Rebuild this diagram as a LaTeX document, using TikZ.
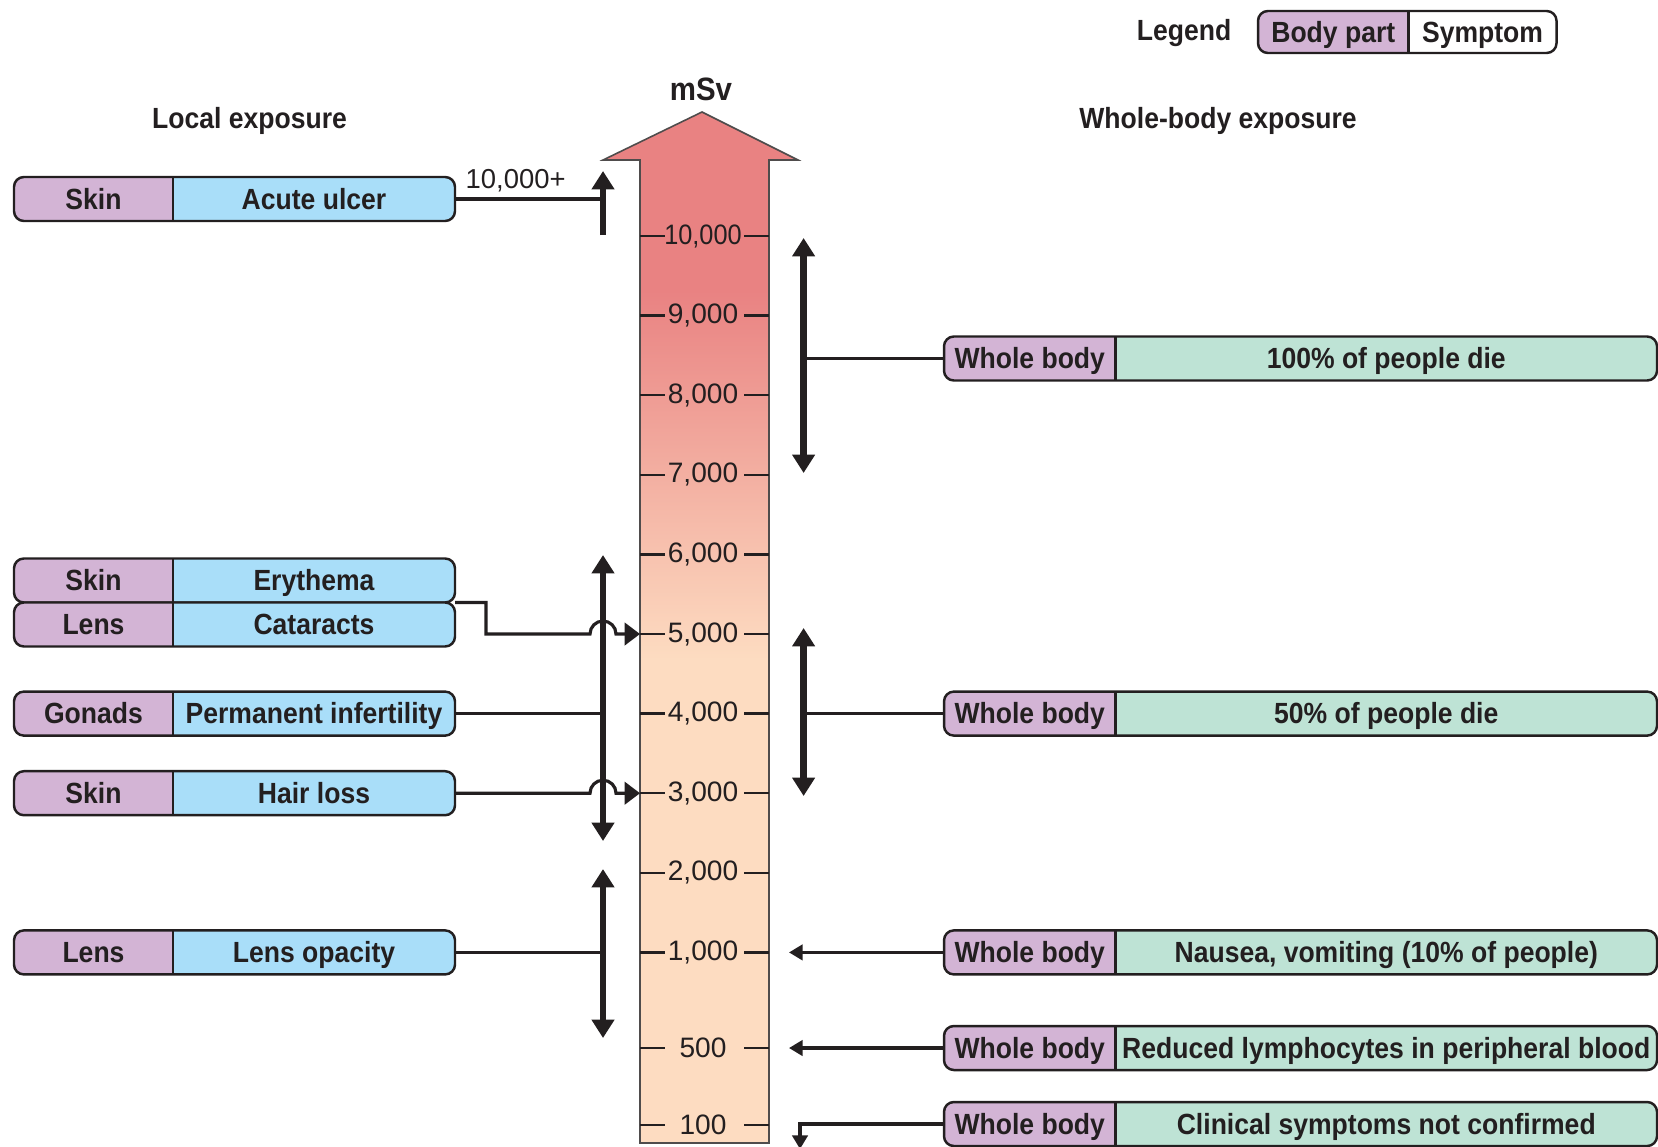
\documentclass[tikz,border=0pt]{standalone}
\usepackage{fontspec}
\setmainfont{Liberation Sans}
\newfontfamily\dosefont{Liberation Sans}[FakeStretch=0.91]
\usetikzlibrary{positioning,arrows.meta,backgrounds,calc}

\definecolor{partfill}{HTML}{D3B4D5}
\definecolor{localfill}{HTML}{A9DEF9}
\definecolor{wholefill}{HTML}{BEE3D5}
\definecolor{doseRed}{HTML}{E98282}
\definecolor{dosePeach}{HTML}{FDDCC1}
\definecolor{ink}{HTML}{231F20}

\tikzset{bigtri/.tip={Triangle[length=5.2pt,width=6.2pt]}}
\tikzset{hoptri/.tip={Triangle[length=4.4pt,width=6.4pt]}}
\tikzset{thintri/.tip={Triangle[length=3.9pt,width=4.4pt]}}
\tikzset{part/.style={minimum height=0.44cm, inner sep=0pt, outer sep=0pt, text height=5.9pt, text depth=0pt, font=\dosefont\fontsize{8.3}{10}\selectfont\bfseries, text=ink},}
\tikzset{local part/.style={part, minimum width=1.59cm},}
\tikzset{local sym/.style={part, minimum width=2.82cm},}
\tikzset{whole part/.style={part, minimum width=1.715cm},}
\tikzset{whole sym/.style={part, minimum width=5.415cm},}
\tikzset{head/.style={font=\dosefont\fontsize{8.3}{10}\selectfont\bfseries, text=ink, inner sep=0pt},}
\tikzset{tick label/.style={font=\fontsize{8}{10}\selectfont, text=ink, inner sep=0pt},}
\tikzset{tick/.style={draw=ink, line width=0.7pt},}
\tikzset{link/.style={draw=ink, line width=0.9pt},}
\tikzset{dose range/.style={draw=ink, line width=1.9pt, bigtri-bigtri},}
\tikzset{boxline/.style={draw=ink, line width=0.7pt},}

% frame of a body part / symptom pair
\newcommand{\dosepair}[3]{%
  \begin{scope}[on background layer]
    \fill[#3, rounded corners=2.8pt] (#1.north west) rectangle (#2.south east);
    \fill[partfill, rounded corners=2.8pt] (#1.north east) -- (#1.north west) -- (#1.south west) -- (#1.south east);
    \draw[boxline, rounded corners=2.8pt] (#1.north west) rectangle (#2.south east);
    \draw[boxline] (#1.north east) -- (#1.south east);
  \end{scope}}

\begin{document}
\begin{tikzpicture}
     \useasboundingbox (0,0) rectangle (16.58,-11.46);

     % the dose scale
     \coordinate (sbl) at (6.40,-11.43);
     \coordinate (sbr) at (7.69,-11.43);
     \coordinate (sml) at (6.40,-2.90);
     \coordinate (smr) at (7.69,-2.90);
     \coordinate (hl) at (6.40,-1.60);
     \coordinate (hr) at (7.69,-1.60);
     \coordinate (wl) at (6.03,-1.60);
     \coordinate (wr) at (7.98,-1.60);
     \coordinate (tip) at (7.02,-1.12);
     \fill[dosePeach] (sbl) -- (hl) -- (wl) -- (tip) -- (wr) -- (hr) -- (sbr) -- cycle;
     \fill[doseRed] (sml) -- (hl) -- (wl) -- (tip) -- (wr) -- (hr) -- (smr) -- cycle;
     \shade[top color=doseRed, bottom color=dosePeach] (sml) rectangle (7.69,-6.60);
     \draw[ink!80, line width=0.45pt] (sbl) -- (hl) -- (wl) -- (tip) -- (wr) -- (hr) -- (sbr) -- cycle;

     \foreach \n/\ty/\lab in {10/-2.36/{\scalebox{0.9}[1]{10,000}},9/-3.156/{9,000},8/-3.952/{8,000},
        7/-4.748/{7,000},6/-5.544/{6,000},5/-6.34/{5,000},4/-7.136/{4,000},3/-7.932/{3,000},
        2/-8.728/{2,000},1/-9.524/{1,000},500/-10.48/{500},100/-11.25/{100}}{
       \coordinate (in\n) at (6.40,\ty);
       \draw[tick] (in\n) -- ++(0.25,0) (7.44,\ty) -- (7.69,\ty);
       \node[tick label] (lab\n) at (7.03,\ty) {\lab};
     }

     \node[head, font=\dosefont\fontsize{9.2}{11}\selectfont\bfseries] (unit) at (7.01,-0.89) {mSv};
     \node[head] (local) at (2.495,-1.205) {Local exposure};
     \node[head] (whole) at (12.18,-1.205) {Whole-body exposure};

     % legend
     \node[head] (legend) at (11.84,-0.33) {Legend};
     \node[part, minimum width=1.505cm, minimum height=0.42cm] (legpart) at (13.3325,-0.32) {Body part};
     \node[part, minimum width=1.48cm, minimum height=0.42cm] (legsym) [right=0pt of legpart] {Symptom};
     \dosepair{legpart}{legsym}{white}

     % local exposure
     \node[local part] (skin1) at (0.935,-1.99) {Skin};
     \node[local sym] (ulcer) [right=0pt of skin1] {Acute ulcer};
     \node[local part] (skin2) at (0.935,-5.805) {Skin};
     \node[local sym] (erythema) [right=0pt of skin2] {Erythema};
     \node[local part] (lens1) at (0.935,-6.245) {Lens};
     \node[local sym] (cataracts) [right=0pt of lens1] {Cataracts};
     \node[local part] (gonads) at (0.935,-7.136) {Gonads};
     \node[local sym] (infert) [right=0pt of gonads] {Permanent infertility};
     \node[local part] (skin3) at (0.935,-7.932) {Skin};
     \node[local sym] (hair) [right=0pt of skin3] {Hair loss};
     \node[local part] (lens2) at (0.935,-9.524) {Lens};
     \node[local sym] (opacity) [right=0pt of lens2] {Lens opacity};
     \dosepair{skin1}{ulcer}{localfill}
     \dosepair{skin2}{erythema}{localfill}
     \dosepair{lens1}{cataracts}{localfill}
     \dosepair{gonads}{infert}{localfill}
     \dosepair{skin3}{hair}{localfill}
     \dosepair{lens2}{opacity}{localfill}

     \coordinate (ulcerlo) at (6.03,-2.35);
     \coordinate (ulcerhi) at (6.03,-1.71);
     \coordinate (lowtop) at (6.03,-5.55);
     \coordinate (lowbot) at (6.03,-8.41);
     \coordinate (opatop) at (6.03,-8.69);
     \coordinate (opabot) at (6.03,-10.38);
     \draw[draw=ink, line width=1.9pt, -bigtri] (ulcerlo) -- (ulcerhi);
     \draw[link] (ulcer.east) -- (ulcer.east -| ulcerlo);
     \node[tick label, font=\fontsize{7.8}{9}\selectfont, anchor=west] (plus) at (4.65,-1.81) {10,000+};
     \draw[dose range] (lowtop) -- (lowbot);
     \draw[dose range] (opatop) -- (opabot);
     \draw[link, -hoptri] (erythema.south east) -- ++(0.31,0) |- ($(in5 -| lowtop)+(-0.13,0)$)
        arc[start angle=180, end angle=0, radius=0.13] -- (in5);
     \draw[link] (infert.east) -- (infert.east -| lowtop);
     \draw[link, -hoptri] (hair.east) -- ($(in3 -| lowtop)+(-0.13,0)$)
        arc[start angle=180, end angle=0, radius=0.13] -- (in3);
     \draw[link] (opacity.east) -- (opacity.east -| opatop);

     % whole-body exposure
     \node[whole part] (body1) at (10.2975,-3.585) {Whole body};
     \node[whole sym] (die100) [right=0pt of body1] {100\% of people die};
     \node[whole part] (body2) at (10.2975,-7.136) {Whole body};
     \node[whole sym] (die50) [right=0pt of body2] {50\% of people die};
     \node[whole part] (body3) at (10.2975,-9.524) {Whole body};
     \node[whole sym] (nausea) [right=0pt of body3] {Nausea, vomiting (10\% of people)};
     \node[whole part] (body4) at (10.2975,-10.48) {Whole body};
     \node[whole sym] (lymph) [right=0pt of body4] {Reduced lymphocytes in peripheral blood};
     \node[whole part] (body5) at (10.2975,-11.24) {Whole body};
     \node[whole sym] (clinical) [right=0pt of body5] {Clinical symptoms not confirmed};
     \dosepair{body1}{die100}{wholefill}
     \dosepair{body2}{die50}{wholefill}
     \dosepair{body3}{nausea}{wholefill}
     \dosepair{body4}{lymph}{wholefill}
     \dosepair{body5}{clinical}{wholefill}

     \coordinate (dietop) at (8.036,-2.38);
     \coordinate (diebot) at (8.036,-4.73);
     \coordinate (halftop) at (8.036,-6.28);
     \coordinate (halfbot) at (8.036,-7.96);
     \coordinate (gap1) at (7.89,-9.524);
     \coordinate (gap500) at (7.89,-10.48);
     \coordinate (gap100) at (8.00,-11.49);
     \draw[dose range] (dietop) -- (diebot);
     \draw[link] (body1.west) -- (body1.west -| dietop);
     \draw[dose range] (halftop) -- (halfbot);
     \draw[link] (body2.west) -- (body2.west -| halftop);
     \draw[link, -thintri] (body3.west) -- (gap1);
     \draw[link, -thintri] (body4.west) -- (gap500);
     \draw[link, -thintri] (body5.west) -| (gap100);
  \end{tikzpicture}
\end{document}
